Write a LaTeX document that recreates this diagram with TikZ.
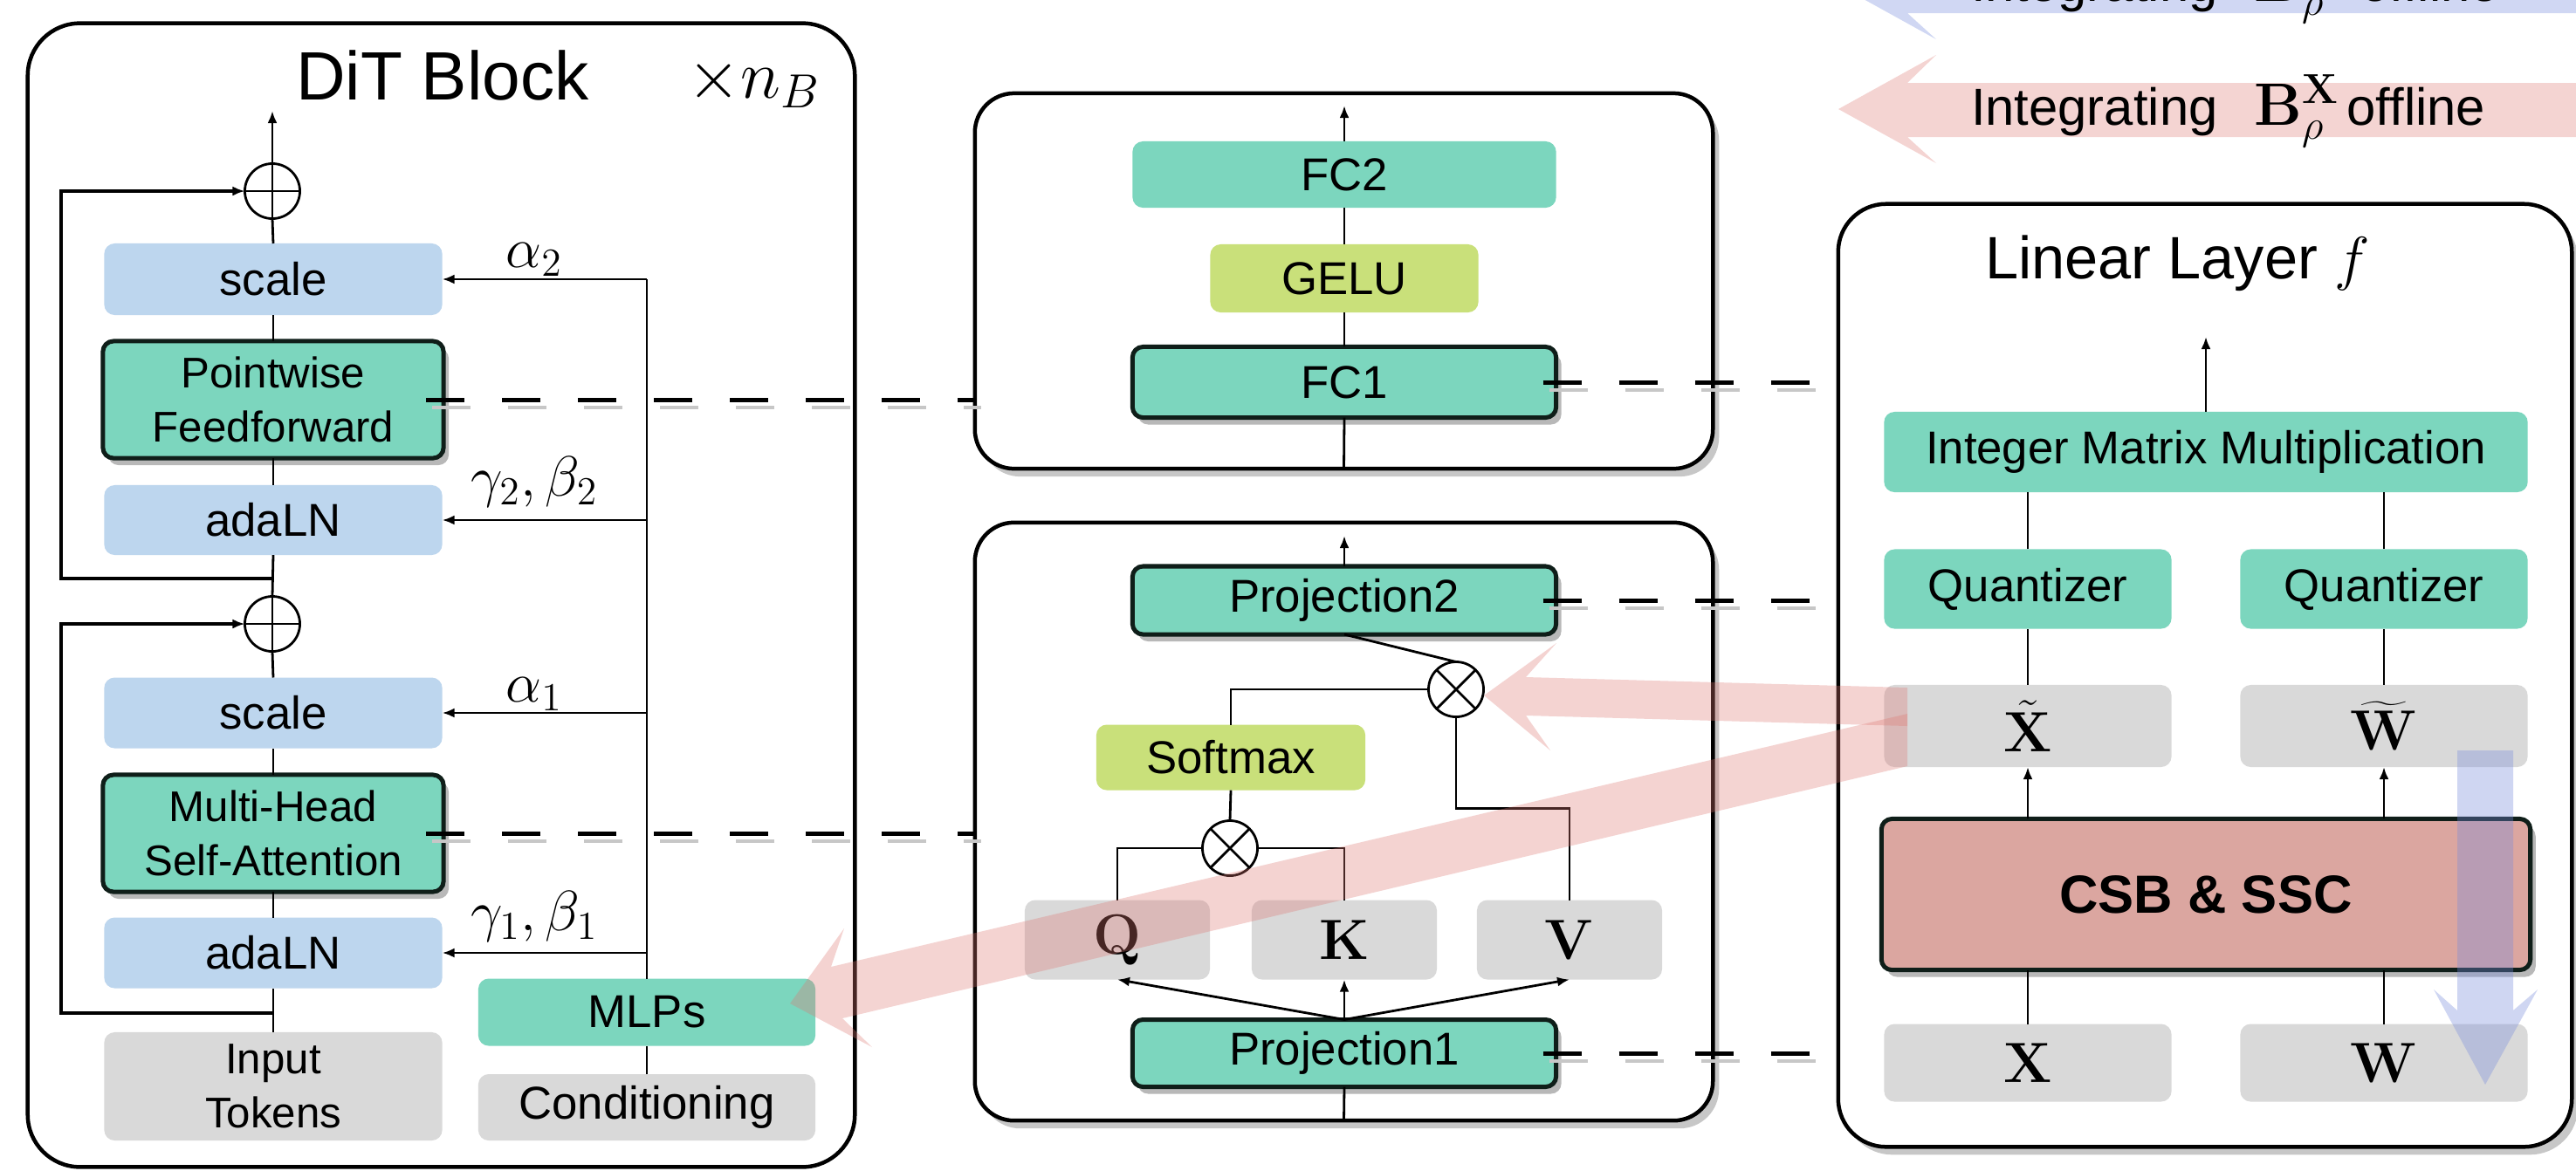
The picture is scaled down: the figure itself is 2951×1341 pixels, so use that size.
\RequirePackage{fix-cm}
\documentclass[tikz,border=0pt]{standalone}
\usepackage[no-math]{fontspec}
\setmainfont{Liberation Sans}
\usetikzlibrary{shadows,calc,arrows.meta}
\definecolor{lblue}{RGB}{189,214,238}
\definecolor{mint}{RGB}{124,214,190}
\definecolor{lime}{RGB}{201,224,122}
\definecolor{lgrey}{RGB}{217,217,217}
\definecolor{csbpink}{RGB}{219,166,160}
\definecolor{bordc}{RGB}{15,30,25}
\definecolor{redarr}{RGB}{222,120,115}
\definecolor{bluarr}{RGB}{120,140,220}
\newcommand{\dashlink}[2]{\draw[dshade] ([shift={(7,9)}]#1) -- ([shift={(7,9)}]#2); \draw[dline] (#1) -- (#2);}
\newcommand{\bigmath}[1]{{\fontsize{19.5}{22}\selectfont$#1$}}
\begin{document}
\begin{tikzpicture}[x=0.01cm,y=-0.01cm,
  every node/.style={inner sep=0pt, outer sep=0pt},
  lbl/.style={font=\fontsize{15}{17.6}\selectfont, align=center},
  two/.style={font=\fontsize{14}{17.6}\selectfont},
  soft/.style={lbl, rounded corners=0.12cm},
  blu/.style={soft, fill=lblue},
  mnt/.style={soft, fill=mint},
  lim/.style={soft, fill=lime},
  gry/.style={soft, fill=lgrey},
  strong/.style={draw=bordc, line width=0.05cm, drop shadow={shadow xshift=0.06cm, shadow yshift=-0.08cm, fill=black!28, opacity=1}},
  cont/.style={draw=black, fill=white, line width=0.045cm},
  cshadow/.style={drop shadow={shadow xshift=0.07cm, shadow yshift=-0.09cm, fill=black!22, opacity=1}},
  conn/.style={line width=0.028cm},
  skipline/.style={line width=0.04cm, -{Latex[length=0.14cm,width=0.11cm]}},
  arr/.style={conn, -{Latex[length=0.14cm,width=0.11cm]}},
  op/.style={circle, draw, line width=0.028cm, minimum size=0.63cm, fill=white},
  dline/.style={line width=0.05cm, dash pattern=on 0.44cm off 0.43cm},
  dshade/.style={line width=0.035cm, black!22, dash pattern=on 0.44cm off 0.43cm},
  mlbl/.style={font=\fontsize{18.5}{20}\selectfont},
  ttl/.style={font=\fontsize{22.3}{25}\selectfont},
  ttlb/.style={font=\fontsize{19.5}{22}\selectfont},
  redA/.style={fill=redarr, fill opacity=0.32},
  bluA/.style={fill=bluarr, fill opacity=0.35},
  atxt/.style={font=\fontsize{17}{19}\selectfont}
]
\useasboundingbox (0,0) rectangle (2951,1341);
\clip (0,0) rectangle (2951,1341);

% ---------- containers ----------
\node[cont, rounded corners=0.6cm, minimum width=9.47cm, minimum height=13.10cm] (dit) at (505.5,682) {};
\node[cont, cshadow, rounded corners=0.45cm, minimum width=8.45cm, minimum height=4.30cm] (ffn) at (1539.5,322) {};
\node[cont, cshadow, rounded corners=0.45cm, minimum width=8.45cm, minimum height=6.85cm] (attn) at (1539.5,941.5) {};
\node[cont, cshadow, rounded corners=0.55cm, minimum width=8.40cm, minimum height=10.80cm] (lin) at (2526,774) {};

% ---------- top legend arrows ----------
\fill[bluA] (2106,-17) -- (2218,-79) -- (2185,-47) -- (2960,-47) -- (2960,15) -- (2185,15) -- (2218,45) -- cycle;
\fill[redA] (2106,125) -- (2218,63) -- (2185,95) -- (2960,95) -- (2960,157) -- (2185,157) -- (2218,187) -- cycle;
\node[atxt, anchor=base west] (blutxt) at (2258,1) {Integrating\hspace{0.7em}\bigmath{\mathbf{B}^{\mathbf{W}}_{\rho}}\hspace{0.15em}offline};
\node[atxt, anchor=base west] (redtxt) at (2258,143) {Integrating\hspace{0.7em}\bigmath{\mathbf{B}^{\mathbf{X}}_{\rho}}\hspace{0.15em}offline};

% ---------- DiT block ----------
\node[ttl, anchor=base] (dittitle) at (507,114) {DiT Block};
\node[ttl, anchor=base] (nb) at (864,112) {$\times n_B$};

\node[blu, minimum width=3.87cm, minimum height=0.82cm] (scale2) at (313,320) {scale};
\node[mnt, strong, two, minimum width=3.90cm, minimum height=1.34cm] (pff) at (313,458) {Pointwise\\Feedforward};
\node[blu, minimum width=3.87cm, minimum height=0.80cm] (adaln2) at (313,596) {adaLN};
\node[op] (plus2) at (312,219) {};
\node[op] (plus1) at (312,715) {};
\node[blu, minimum width=3.87cm, minimum height=0.81cm] (scale1) at (313,817) {scale};
\node[mnt, strong, two, minimum width=3.90cm, minimum height=1.34cm] (mhsa) at (313,955) {Multi-Head\\Self-Attention};
\node[blu, minimum width=3.87cm, minimum height=0.81cm] (adaln1) at (313,1092) {adaLN};
\node[gry, two, minimum width=3.87cm, minimum height=1.24cm] (inp) at (313,1245) {Input\\Tokens};
\node[mnt, minimum width=3.86cm, minimum height=0.77cm] (mlps) at (741,1160) {MLPs};
\node[gry, minimum width=3.86cm, minimum height=0.76cm] (cond) at (741,1269) {Conditioning};

\foreach \p in {plus1,plus2}{
  \draw[conn] (\p.north) -- (\p.south);
  \draw[conn] (\p.west) -- (\p.east);
}

\draw[conn] (inp.north) -- (adaln1.south);
\draw[conn] (adaln1.north) -- (mhsa.south);
\draw[conn] (mhsa.north) -- (scale1.south);
\draw[conn] (scale1.north) -- (plus1.south);
\draw[conn] (plus1.north) -- (adaln2.south);
\draw[conn] (adaln2.north) -- (pff.south);
\draw[conn] (pff.north) -- (scale2.south);
\draw[conn] (scale2.north) -- (plus2.south);
\coordinate (ditout) at (312,127);
\draw[arr] (plus2.north) -- (ditout);

\coordinate (sk1) at (312,1161);
\coordinate (sk2) at (312,663);
\draw[skipline] (sk1) -- ++(-242,0) |- (plus1.west);
\draw[skipline] (sk2) -- ++(-242,0) |- (plus2.west);

\coordinate (ctop) at (741,320);
\draw[conn] (cond.north) -- (mlps.south);
\draw[conn] (mlps.north) -- (ctop);
\draw[arr] (ctop) -- node[pos=0.55, mlbl, above=0.04cm] {$\alpha_2$} (scale2.east);
\draw[arr] (mlps.north |- adaln2.east) -- node[pos=0.55, mlbl, above=0.15cm] {$\gamma_2,\beta_2$} (adaln2.east);
\draw[arr] (mlps.north |- scale1.east) -- node[pos=0.55, mlbl, above=0.03cm] {$\alpha_1$} (scale1.east);
\draw[arr] (mlps.north |- adaln1.east) -- node[pos=0.55, mlbl, above=0.13cm] {$\gamma_1,\beta_1$} (adaln1.east);

% ---------- Feedforward ----------
\node[mnt, minimum width=4.85cm, minimum height=0.76cm] (fc2) at (1540,200) {FC2};
\node[lim, minimum width=3.07cm, minimum height=0.78cm] (gelu) at (1540,319) {GELU};
\node[mnt, strong, minimum width=4.85cm, minimum height=0.81cm] (fc1) at (1540,438) {FC1};
\coordinate (ffnout) at (1540,121);
\draw[conn] (ffn.south) -- (fc1.south);
\draw[conn] (fc1.north) -- (gelu.south);
\draw[conn] (gelu.north) -- (fc2.south);
\draw[arr] (fc2.north) -- (ffnout);

% ---------- Attention ----------
\node[mnt, strong, minimum width=4.85cm, minimum height=0.78cm] (proj2) at (1540,688) {Projection2};
\node[op] (mul2) at (1668,790) {};
\node[lim, minimum width=3.08cm, minimum height=0.75cm] (softmax) at (1410,868) {Softmax};
\node[op] (mul1) at (1409,972) {};
\node[gry, mlbl, minimum width=2.12cm, minimum height=0.91cm] (Q) at (1280,1077) {$\mathbf{Q}$};
\node[gry, mlbl, minimum width=2.12cm, minimum height=0.91cm] (K) at (1540,1077) {$\mathbf{K}$};
\node[gry, mlbl, minimum width=2.12cm, minimum height=0.91cm] (V) at (1798,1077) {$\mathbf{V}$};
\node[mnt, strong, minimum width=4.85cm, minimum height=0.77cm] (proj1) at (1540,1207) {Projection1};
\foreach \p in {mul1,mul2}{
  \draw[conn] (\p.north west) -- (\p.south east);
  \draw[conn] (\p.north east) -- (\p.south west);
}
\coordinate (attnout) at (1540,614);
\draw[arr] (proj2.north) -- (attnout);
\draw[conn] (attn.south) -- (proj1.south);
\draw[arr] (proj1.north) -- (Q.south);
\draw[arr] (proj1.north) -- (K.south);
\draw[arr] (proj1.north) -- (V.south);
\draw[conn] (Q.north) |- (mul1.west);
\draw[conn] (K.north) |- (mul1.east);
\draw[conn] (mul1.north) -- (softmax.south);
\draw[conn] (softmax.north) |- (mul2.west);
\draw[conn] (V.north) -- ++(0,-105) -| (mul2.south);
\draw[conn] (mul2.north) -- (proj2.south);

% ---------- Linear layer ----------
\node[ttlb, anchor=base west] (lintitle) at (2274,319) {Linear Layer $f$};
\node[mnt, minimum width=7.37cm, minimum height=0.92cm] (imm) at (2527,518) {Integer Matrix Multiplication};
\node[mnt, minimum width=3.29cm, minimum height=0.91cm] (q1) at (2323,675) {Quantizer};
\node[mnt, minimum width=3.29cm, minimum height=0.91cm] (q2) at (2731,675) {Quantizer};
\node[gry, mlbl, minimum width=3.29cm, minimum height=0.94cm] (xt) at (2323,832) {$\tilde{\mathbf{X}}$};
\node[gry, mlbl, minimum width=3.29cm, minimum height=0.94cm] (wt) at (2731,832) {$\widetilde{\mathbf{W}}$};
\node[soft, strong, fill=csbpink, font=\fontsize{17.5}{20}\selectfont\bfseries, minimum width=7.43cm, minimum height=1.73cm] (csb) at (2527,1025) {CSB \& SSC};
\node[gry, mlbl, minimum width=3.29cm, minimum height=0.89cm] (xx) at (2323,1218) {$\mathbf{X}$};
\node[gry, mlbl, minimum width=3.29cm, minimum height=0.89cm] (ww) at (2731,1218) {$\mathbf{W}$};
\coordinate (linout) at (2527,386);
\draw[arr] (imm.north) -- (linout);
\draw[conn] (q1.north) -- (q1.north |- imm.south);
\draw[conn] (q2.north) -- (q2.north |- imm.south);
\draw[conn] (xt.north) -- (q1.south);
\draw[conn] (wt.north) -- (q2.south);
\draw[arr] (xt.south |- csb.north) -- (xt.south);
\draw[arr] (wt.south |- csb.north) -- (wt.south);
\draw[conn] (xx.north) -- (xx.north |- csb.south);
\draw[conn] (ww.north) -- (ww.north |- csb.south);

% ---------- dashed correspondences ----------
\coordinate (d1s) at ([xshift=-0.2cm]pff.east);
\coordinate (d1e) at (ffn.west |- pff.east);
\coordinate (d2s) at ([xshift=-0.2cm]mhsa.east);
\coordinate (d2e) at (attn.west |- mhsa.east);
\coordinate (d3s) at ([xshift=-0.15cm]fc1.east);
\coordinate (d3e) at (lin.west |- fc1.east);
\coordinate (d4s) at ([xshift=-0.15cm]proj2.east);
\coordinate (d4e) at (lin.west |- proj2.east);
\coordinate (d5s) at ([xshift=-0.15cm]proj1.east);
\coordinate (d5e) at (lin.west |- proj1.east);
\dashlink{d1s}{d1e}
\dashlink{d2s}{d2e}
\dashlink{d3s}{d3e}
\dashlink{d4s}{d4e}
\dashlink{d5s}{d5e}

% ---------- translucent integration arrows ----------
\fill[redA] (2185,788) -- (1748,776) -- (1783,737) -- (1700,797) -- (1776,860) -- (1748,820) -- (2185,832) -- cycle;
\fill[redA] (2185,818) -- (952,1108) -- (967,1064) -- (905,1150) -- (999,1200) -- (965,1167) -- (2185,878) -- cycle;
\fill[bluA] (2815,860) -- (2879,860) -- (2879,1158) -- (2907,1134) -- (2847,1243) -- (2788,1134) -- (2815,1158) -- cycle;
\end{tikzpicture}
\end{document}
